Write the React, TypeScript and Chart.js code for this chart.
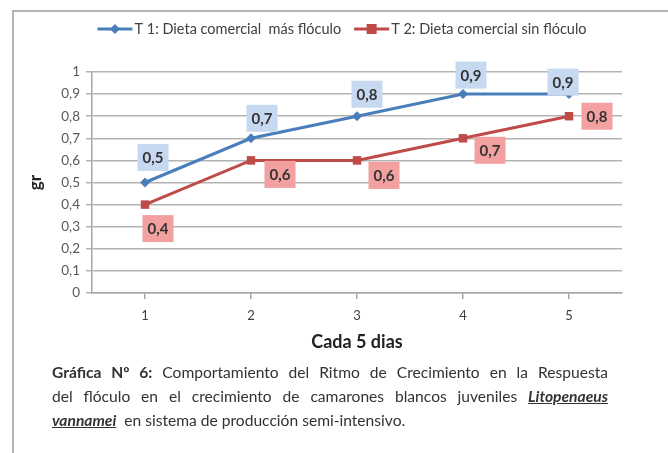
import React, { useEffect, useRef } from "react";
import { Chart, registerables } from "chart.js";

Chart.register(...registerables);

const categories = ["1", "2", "3", "4", "5"];
const seriesT1 = [0.5, 0.7, 0.8, 0.9, 0.9];
const seriesT2 = [0.4, 0.6, 0.6, 0.7, 0.8];
const seriesNames = ["T 1: Dieta comercial  más flóculo", "T 2: Dieta comercial sin flóculo"];
const yTickLabels = ["0", "0,1", "0,2", "0,3", "0,4", "0,5", "0,6", "0,7", "0,8", "0,9", "1"];
const xTitle = "Cada 5 dias";
const yTitle = "gr";

const FONT = "Lato, 'Open Sans', sans-serif";
const BLUE = "#4a7ebb";
const RED = "#be4b48";
const BLUE_BG = "#c6d9f0";
const RED_BG = "#f2a0a0";

// label offsets (pixels) relative to each point
const labelOffsets = [
  [[8, -25], [11, -20], [10, -22], [8, -19], [-6, -12]],
  [[13, 24], [29, 14], [27, 15], [27, 12], [28, 0]],
];
const labelBgs = [BLUE_BG, RED_BG];

const fmt = (v: number) => String(v).replace(".", ",");

const labelPlugin = {
  id: "valueLabels",
  afterDatasetsDraw(chart: any) {
    const ctx = chart.ctx;
    ctx.save();
    ctx.font = `bold 15px ${FONT}`;
    ctx.textAlign = "center";
    ctx.textBaseline = "middle";
    chart.data.datasets.forEach((ds: any, di: number) => {
      const meta = chart.getDatasetMeta(di);
      meta.data.forEach((pt: any, i: number) => {
        const [dx, dy] = labelOffsets[di][i];
        const cx = pt.x + dx;
        const cy = pt.y + dy;
        const w = 31;
        const h = 27;
        ctx.fillStyle = labelBgs[di];
        ctx.fillRect(cx - w / 2, cy - h / 2, w, h);
        ctx.fillStyle = "#333333";
        ctx.fillText(fmt(ds.data[i]), cx, cy + 1);
      });
    });
    ctx.restore();
  },
};

const legendPlugin = {
  id: "customLegend",
  afterDraw(chart: any) {
    const ctx = chart.ctx;
    ctx.save();
    ctx.font = `14.5px ${FONT}`;
    ctx.textBaseline = "middle";
    ctx.textAlign = "left";
    const lineLen = 35;
    const gapText = 2;
    const gapItem = 13;
    const items = chart.data.datasets.map((ds: any) => ({
      ds,
      w: ctx.measureText(ds.label).width,
    }));
    let total = 0;
    items.forEach((it: any, i: number) => {
      total += lineLen + gapText + it.w + (i < items.length - 1 ? gapItem : 0);
    });
    let x = 342 - total / 2;
    const y = 29;
    items.forEach((it: any) => {
      const c = it.ds.borderColor;
      ctx.strokeStyle = c;
      ctx.lineWidth = 3;
      ctx.beginPath();
      ctx.moveTo(x, y);
      ctx.lineTo(x + lineLen, y);
      ctx.stroke();
      const mx = x + lineLen / 2;
      ctx.fillStyle = c;
      if (it.ds.pointStyle === "rect") {
        ctx.fillRect(mx - 5, y - 5, 10, 10);
      } else {
        ctx.beginPath();
        ctx.moveTo(mx, y - 5);
        ctx.lineTo(mx + 5, y);
        ctx.lineTo(mx, y + 5);
        ctx.lineTo(mx - 5, y);
        ctx.closePath();
        ctx.fill();
      }
      x += lineLen + gapText;
      ctx.fillStyle = "#404040";
      ctx.fillText(it.ds.label, x, y);
      x += it.w + gapItem;
    });
    ctx.restore();
  },
};

export default function App() {
  const ref = useRef<HTMLCanvasElement | null>(null);

  useEffect(() => {
    if (!ref.current) return;
    const chart = new Chart(ref.current, {
      type: "line",
      data: {
        labels: categories,
        datasets: [
          {
            label: seriesNames[0],
            data: seriesT1,
            borderColor: BLUE,
            backgroundColor: BLUE,
            borderWidth: 3,
            pointStyle: "rectRot",
            pointRadius: 5,
            pointBorderWidth: 0,
            tension: 0,
          },
          {
            label: seriesNames[1],
            data: seriesT2,
            borderColor: RED,
            backgroundColor: RED,
            borderWidth: 3,
            pointStyle: "rect",
            pointRadius: 6,
            pointBorderWidth: 0,
            tension: 0,
          },
        ],
      },
      options: {
        responsive: false,
        animation: false,
        layout: { padding: { top: 72, left: 0, right: 46, bottom: 99 } },
        plugins: {
          legend: { display: false },
          tooltip: { enabled: false },
        },
        scales: {
          x: {
            offset: true,
            grid: {
              drawOnChartArea: false,
              drawTicks: true,
              tickLength: 6,
              color: "#a6a6a6",
              lineWidth: 1.5,
            },
            border: { color: "#a6a6a6", width: 1.5 },
            ticks: { font: { family: FONT, size: 13 }, color: "#404040", padding: 9 },
            title: {
              display: true,
              text: xTitle,
              font: { family: FONT, size: 18, weight: "bold" },
              color: "#222222",
              padding: { top: 0, bottom: 1 },
            },
            afterFit: (s: any) => {
              s.height = 61;
            },
          },
          y: {
            min: 0,
            max: 1,
            ticks: {
              stepSize: 0.1,
              font: { family: FONT, size: 13.5 },
              color: "#595959",
              padding: 6,
              callback: (_v: any, i: number) => yTickLabels[i],
            },
            grid: {
              color: "#b3b3b3",
              lineWidth: 1.5,
              tickLength: 6,
              drawTicks: true,
            },
            border: { color: "#a6a6a6", width: 1.5 },
            title: {
              display: true,
              text: yTitle,
              font: { family: FONT, size: 17, weight: "bold" },
              color: "#222222",
              padding: { top: 25, bottom: 0 },
            },
            afterFit: (s: any) => {
              s.width = 92;
            },
          },
        },
      },
      plugins: [labelPlugin, legendPlugin],
    });
    return () => chart.destroy();
  }, []);

  const lineStyle: React.CSSProperties = {
    height: 24,
    lineHeight: "24px",
    whiteSpace: "nowrap",
  };
  const sci: React.CSSProperties = { fontWeight: "bold", fontStyle: "italic", textDecoration: "underline" };

  return (
    <div style={{ position: "absolute", left: 0, top: 0, width: 668, height: 453, background: "#ffffff", overflow: "hidden" }}>
      <div
        style={{
          position: "absolute",
          left: 12,
          top: 10,
          width: 700,
          height: 500,
          borderLeft: "2.5px solid #b5b5b5",
          borderTop: "2.5px solid #b5b5b5",
          boxSizing: "border-box",
        }}
      />
      <canvas ref={ref} width={668} height={453} style={{ position: "absolute", left: 0, top: 0 }} />
      <div
        style={{
          position: "absolute",
          left: 52,
          top: 360,
          width: 556,
          fontFamily: FONT,
          fontSize: 15.6,
          color: "#333333",
        }}
      >
        <div style={{ ...lineStyle, textAlign: "justify", textAlignLast: "justify", whiteSpace: "normal" }}>
          <b>Gráfica Nº 6:</b> Comportamiento del Ritmo de Crecimiento en la Respuesta
        </div>
        <div style={{ ...lineStyle, textAlign: "justify", textAlignLast: "justify", whiteSpace: "normal" }}>
          del flóculo en el crecimiento de camarones blancos juveniles <span style={sci}>Litopenaeus</span>
        </div>
        <div style={lineStyle}>
          <span style={sci}>vannamei</span>&nbsp; en sistema de producción semi-intensivo.
        </div>
      </div>
    </div>
  );
}
